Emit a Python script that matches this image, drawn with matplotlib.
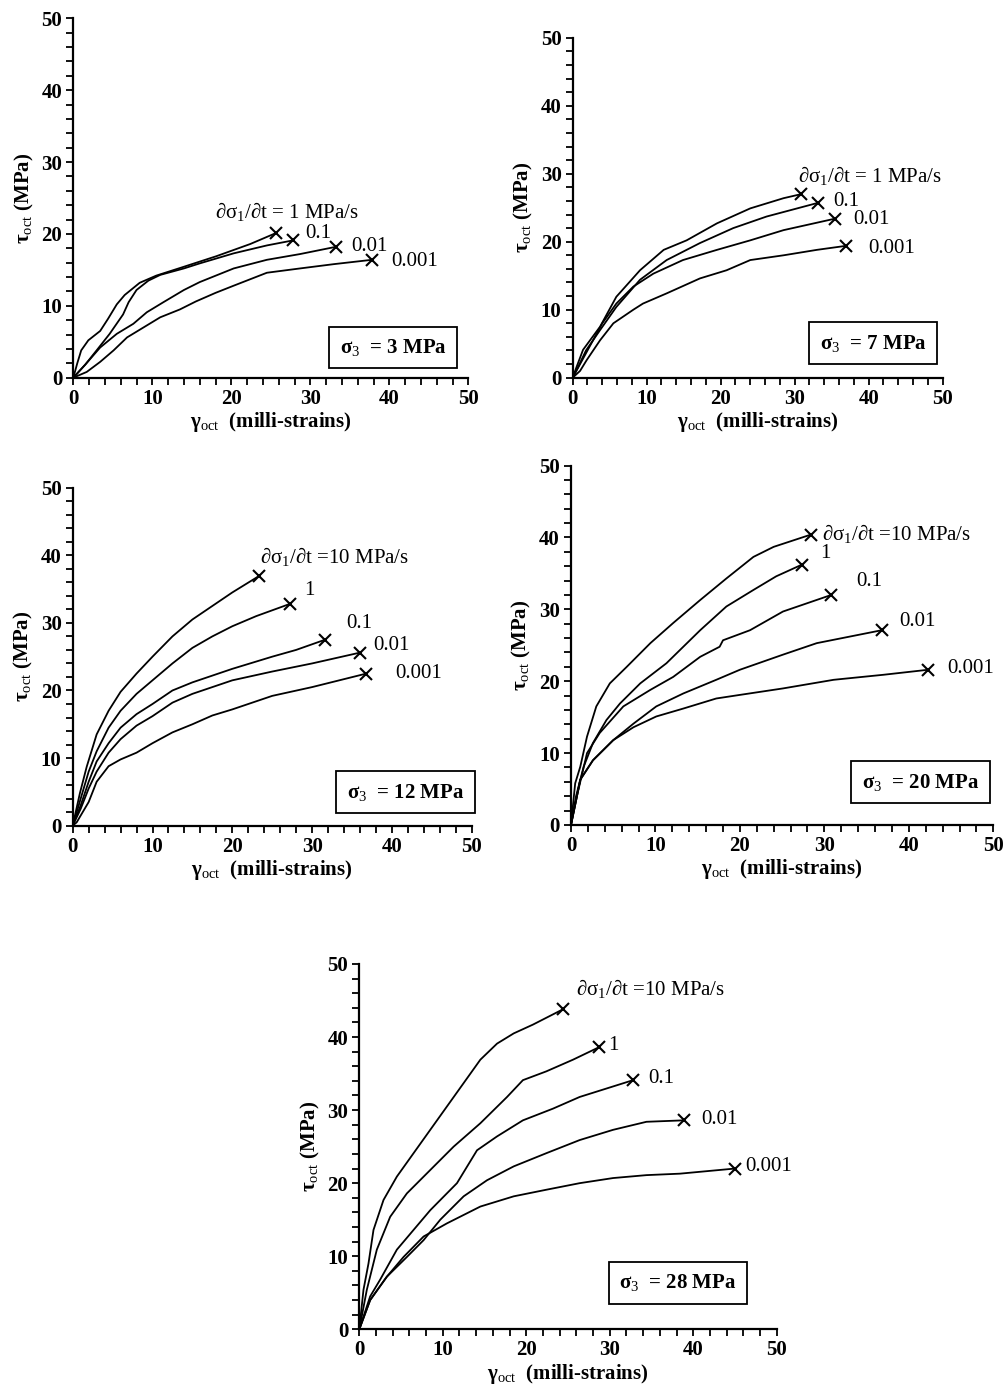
import matplotlib
matplotlib.use("Agg")
import matplotlib.pyplot as plt
from matplotlib.ticker import MultipleLocator

plt.rcParams["font.family"] = ["Liberation Serif", "DejaVu Serif"]
plt.rcParams["mathtext.fontset"] = "custom"
plt.rcParams["mathtext.rm"] = "Liberation Serif"
plt.rcParams["mathtext.it"] = "Liberation Serif:italic"
plt.rcParams["mathtext.bf"] = "Liberation Serif:bold"

# octahedral shear strain (milli-strains) / stress (MPa), one list per loading rate
# sigma3 = 3 MPa
g3 = [
    [0, 0.5, 1.0, 1.9, 3.4, 4.4, 5.5, 6.5, 8.4, 10.5, 13.9, 18.1, 22.4, 25.6],
    [0, 1.5, 2.95, 4.6, 6.3, 7.0, 8.0, 9.5, 11.0, 14.0, 16.0, 20.3, 24.5, 27.8],
    [0, 1.5, 3.4, 5.5, 7.6, 9.3, 11.4, 14.0, 16.0, 20.3, 24.5, 28.7, 33.2],
    [0, 1.7, 3.4, 5.1, 6.8, 8.9, 11.0, 13.5, 15.5, 18.0, 20.3, 24.5, 28.7, 33.0, 37.8],
]
t3 = [
    [0, 2.0, 3.8, 5.2, 6.5, 8.2, 10.2, 11.5, 13.2, 14.2, 15.4, 16.9, 18.6, 20.1],
    [0, 1.8, 3.8, 6.1, 8.8, 10.5, 12.2, 13.5, 14.3, 15.2, 15.9, 17.3, 18.4, 19.1],
    [0, 1.8, 4.2, 6.1, 7.5, 9.1, 10.5, 12.2, 13.3, 15.2, 16.4, 17.2, 18.2],
    [0, 0.8, 2.2, 3.8, 5.6, 7.0, 8.4, 9.5, 10.6, 11.8, 12.8, 14.6, 15.2, 15.8, 16.4],
]
rates3 = ["= 1 MPa/s", "0.1", "0.01", "0.001"]

# sigma3 = 7 MPa
g7 = [
    [0, 0.5, 1.4, 3.7, 5.9, 9.1, 12.3, 15.4, 19.5, 24.0, 28.5, 30.9],
    [0, 0.7, 1.8, 3.7, 5.9, 9.1, 12.7, 17.2, 21.7, 26.2, 33.1],
    [0, 1.0, 2.5, 4.0, 5.9, 8.2, 10.9, 14.9, 19.5, 24.0, 28.5, 35.5],
    [0, 1.0, 1.9, 3.7, 5.5, 8.2, 9.5, 12.7, 17.2, 20.8, 24.0, 28.5, 33.0, 37.0],
]
t7 = [
    [0, 1.5, 4.1, 7.5, 11.9, 15.8, 18.8, 20.2, 22.7, 24.9, 26.4, 27.0],
    [0, 1.5, 4.0, 7.0, 10.4, 14.4, 17.3, 19.8, 22.0, 23.7, 25.7],
    [0, 2.0, 5.0, 8.0, 10.9, 13.4, 15.3, 17.3, 18.8, 20.2, 21.7, 23.4],
    [0, 1.0, 2.6, 5.5, 8.0, 10.0, 10.9, 12.4, 14.6, 15.8, 17.3, 18.0, 18.8, 19.4],
]
rates7 = ["= 1 MPa/s", "0.1", "0.01", "0.001"]

# sigma3 = 12 MPa
g12 = [
    [0, 0.9, 1.75, 3.0, 4.5, 6.0, 8.0, 10.0, 12.5, 15.0, 17.5, 20.0, 23.3],
    [0, 1.0, 2.0, 3.0, 4.5, 6.0, 8.0, 10.0, 12.5, 15.0, 17.5, 20.0, 23.0, 27.2],
    [0, 1.0, 2.0, 3.0, 4.5, 6.0, 8.0, 10.0, 12.5, 15.0, 17.5, 20.0, 25.0, 28.0, 31.6],
    [0, 1.0, 2.0, 3.0, 4.5, 6.0, 8.0, 10.0, 12.5, 15.0, 20.0, 25.0, 30.0, 36.0],
    [0, 0.5, 1.0, 2.0, 3.0, 4.5, 6.0, 8.0, 10.0, 12.5, 15.0, 17.5, 20.0, 25.0, 30.0, 36.8],
]
t12 = [
    [0, 4.8, 8.7, 13.5, 17.0, 19.8, 22.5, 25.0, 28.0, 30.5, 32.5, 34.5, 36.9],
    [0, 4.0, 8.0, 11.0, 14.5, 17.0, 19.5, 21.5, 24.0, 26.3, 28.0, 29.5, 31.0, 32.8],
    [0, 3.0, 6.5, 9.5, 12.2, 14.5, 16.5, 18.0, 20.0, 21.2, 22.2, 23.2, 25.0, 26.0, 27.5],
    [0, 2.5, 5.5, 8.0, 10.8, 12.8, 14.8, 16.2, 18.2, 19.5, 21.5, 22.8, 24.0, 25.6],
    [0, 0.5, 1.5, 3.5, 6.5, 8.8, 9.8, 10.8, 12.2, 13.8, 15.0, 16.3, 17.2, 19.2, 20.5, 22.5],
]
rates12 = ["=10 MPa/s", "1", "0.1", "0.01", "0.001"]

# sigma3 = 20 MPa
g20 = [
    [0, 0.5, 1.1, 1.9, 3.0, 4.6, 6.6, 9.4, 12.1, 15.3, 18.4, 21.6, 24.0, 28.4],
    [0, 0.6, 1.5, 2.6, 4.2, 5.8, 8.2, 11.3, 15.3, 18.4, 21.6, 24.3, 27.3],
    [0, 0.8, 1.9, 3.4, 6.2, 9.4, 12.1, 15.3, 17.6, 18.0, 21.2, 25.1, 30.8],
    [0, 1.1, 2.6, 5.0, 7.4, 10.1, 13.3, 17.2, 20.0, 25.1, 29.1, 36.8],
    [0, 1.1, 2.6, 5.0, 7.4, 10.1, 13.3, 17.2, 20.0, 25.1, 31.1, 37.0, 42.3],
]
t20 = [
    [0, 5.8, 8.1, 12.3, 16.5, 19.7, 22.0, 25.3, 28.1, 31.3, 34.3, 37.3, 38.7, 40.4],
    [0, 4.0, 8.1, 11.4, 14.6, 16.9, 19.7, 22.5, 27.1, 30.4, 32.7, 34.6, 36.2],
    [0, 4.5, 10.0, 12.8, 16.5, 18.8, 20.6, 23.4, 24.8, 25.7, 27.1, 29.7, 32.0],
    [0, 6.3, 9.0, 11.8, 14.1, 16.5, 18.3, 20.2, 21.6, 23.7, 25.3, 27.1],
    [0, 6.3, 9.0, 11.8, 13.6, 15.1, 16.2, 17.6, 18.1, 19.0, 20.2, 20.9, 21.6],
]
rates20 = ["=10 MPa/s", "1", "0.1", "0.01", "0.001"]

# sigma3 = 28 MPa
g28 = [
    [0, 0.5, 1.1, 1.7, 2.9, 4.5, 6.5, 8.5, 10.5, 12.5, 14.5, 16.5, 18.5, 20.8, 24.4],
    [0, 0.9, 2.1, 3.7, 5.7, 8.5, 11.3, 14.5, 17.7, 19.6, 22.4, 25.6, 28.7],
    [0, 1.3, 2.5, 4.5, 6.5, 8.5, 11.7, 14.1, 16.5, 19.6, 23.2, 26.4, 32.8],
    [0, 1.3, 3.3, 5.7, 7.7, 9.7, 12.5, 15.3, 18.5, 22.4, 26.4, 30.4, 34.4, 38.9],
    [0, 1.3, 3.3, 5.3, 7.7, 10.5, 14.5, 18.5, 22.4, 26.4, 30.4, 34.4, 38.4, 45.0],
]
t28 = [
    [0, 5.4, 9.0, 13.6, 17.7, 20.9, 24.1, 27.3, 30.5, 33.7, 36.9, 39.1, 40.5, 41.7, 43.8],
    [0, 5.4, 10.9, 15.4, 18.6, 21.8, 25.0, 28.2, 31.8, 34.1, 35.3, 36.9, 38.6],
    [0, 4.5, 6.8, 10.9, 13.6, 16.3, 20.0, 24.5, 26.4, 28.6, 30.2, 31.8, 34.1],
    [0, 4.0, 7.2, 9.9, 12.2, 15.0, 18.2, 20.4, 22.3, 24.1, 25.9, 27.3, 28.4, 28.6],
    [0, 4.0, 7.2, 9.9, 12.7, 14.5, 16.8, 18.2, 19.1, 20.0, 20.7, 21.1, 21.3, 22.0],
]
rates28 = ["=10 MPa/s", "1", "0.1", "0.01", "0.001"]

fig = plt.figure(figsize=(10.07, 13.87), dpi=100)


def draw_panel(rect, gam, tau, rates, s3, label_xy, box_xy):
    ax = fig.add_axes(rect)
    for i, (g, t) in enumerate(zip(gam, tau)):
        ax.plot(g, t, color="black", lw=1.3)
        ax.plot(g[-1], t[-1], marker="x", color="black", ms=8.5, mew=1.5)
        if i == 0:
            txt = r"∂σ$_1$/∂t " + rates[i]
        else:
            txt = rates[i]
        ax.text(label_xy[i][0], label_xy[i][1], txt, fontsize=15,
                ha="left", va="center")
    ax.text(box_xy[0], box_xy[1], "σ$_3$  = %d MPa" % s3, fontsize=15,
            fontweight="bold", ha="center", va="center",
            bbox=dict(boxstyle="square,pad=0.5", fc="white", ec="black", lw=1.3))
    ax.set_xlim(0, 50)
    ax.set_ylim(0, 50)
    ax.xaxis.set_major_locator(MultipleLocator(10))
    ax.xaxis.set_minor_locator(MultipleLocator(2))
    ax.yaxis.set_major_locator(MultipleLocator(10))
    ax.yaxis.set_minor_locator(MultipleLocator(2))
    ax.tick_params(which="both", direction="out", length=5, width=1.3,
                   labelsize=15, pad=3)
    for lab in ax.get_xticklabels() + ax.get_yticklabels():
        lab.set_fontweight("bold")
    for side in ["top", "right"]:
        ax.spines[side].set_visible(False)
    for side in ["left", "bottom"]:
        ax.spines[side].set_linewidth(1.6)
    ax.set_xlabel(r"γ$_{\rm oct}$  (milli-strains)", fontsize=15,
                  fontweight="bold", labelpad=1)
    ax.set_ylabel(r"τ$_{\rm oct}$ (MPa)", fontsize=15, fontweight="bold",
                  labelpad=4)
    return ax


draw_panel([0.0728, 0.7277, 0.3923, 0.2591], g3, t3, rates3, 3,
           [(17.9, 23.1), (29.3, 20.1), (35.2, 18.2), (40.3, 16.1)], (40.5, 4.2))
draw_panel([0.5687, 0.7277, 0.3674, 0.2451], g7, t7, rates7, 7,
           [(30.5, 29.8), (35.2, 25.9), (37.9, 23.2), (40.0, 19.0)], (40.6, 5.05))
draw_panel([0.0722, 0.4047, 0.3962, 0.2437], g12, t12, rates12, 12,
           [(23.5, 39.8), (29.0, 34.8), (34.3, 29.9), (37.7, 26.7), (40.4, 22.5)],
           (41.7, 4.95))
draw_panel([0.5670, 0.4052, 0.4194, 0.2591], g20, t20, rates20, 20,
           [(29.7, 40.5), (29.5, 37.8), (33.8, 33.9), (38.9, 28.3), (44.6, 21.8)],
           (41.4, 5.95))
draw_panel([0.3568, 0.0416, 0.4145, 0.2634], g28, t28, rates28, 28,
           [(26.0, 46.7), (29.8, 38.9), (34.6, 34.3), (41.0, 28.7), (46.2, 22.3)],
           (38.2, 6.35))

fig.savefig("out.png", dpi=100)
plt.close(fig)
